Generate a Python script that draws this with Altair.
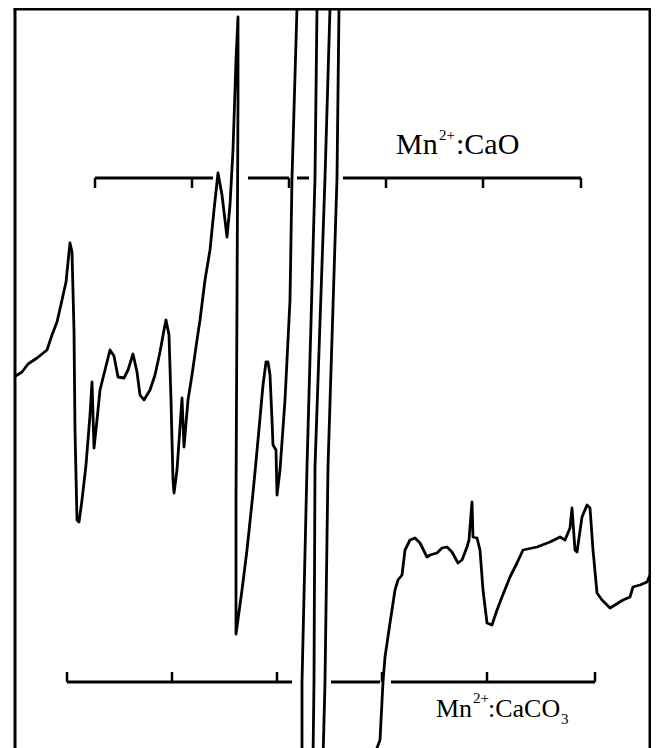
import altair as alt
import pandas as pd

# EPR trace (field in arbitrary units, signal in arbitrary units)
field = [14, 22, 28, 37, 47, 52, 57, 62, 66, 70, 72, 74, 75, 77, 79, 82, 86, 90, 92, 94,
         97, 100, 105, 110, 114, 118, 124, 128, 133, 137, 140, 144, 150, 155, 160, 164, 166, 169, 171, 173,
         174, 177, 180, 182, 184, 188, 192, 197, 200, 205, 210, 214, 218, 222, 227, 230, 233, 236, 238, 238,
         237, 236, 236, 242, 247, 253, 258, 263, 266, 268, 270, 272, 273, 276, 277, 280, 285, 290, 292, 297,
         298, 318, 317, 315, 307, 302, 302, 313, 314, 315, 325, 330, 331, 340, 339, 337, 328, 325, 323, 376,
         377, 380, 383, 385, 390, 395, 398, 402, 405, 410, 415, 420, 427, 430, 437, 442, 447, 452, 458, 462,
         467, 469, 472, 473, 477, 480, 483, 487, 492, 497, 502, 510, 517, 523, 537, 550, 560, 565, 570, 572,
         575, 577, 582, 587, 590, 593, 597, 602, 610, 615, 623, 630, 633, 640, 647, 650]
signal = [363, 368, 376, 382, 390, 405, 418, 440, 458, 497, 488, 410, 310, 220, 218, 240, 275, 325, 358, 292,
          320, 350, 370, 390, 384, 363, 362, 370, 386, 368, 345, 340, 350, 365, 388, 410, 420, 405, 340, 260,
          247, 270, 313, 342, 293, 340, 365, 400, 420, 460, 490, 530, 567, 545, 503, 535, 590, 680, 723, 640,
          440, 240, 106, 150, 190, 247, 300, 355, 378, 378, 365, 320, 295, 290, 245, 270, 340, 440, 562, 732,
          760, 760, 732, 562, 273, 58, -20, -20, 58, 273, 562, 732, 760, 760, 732, 562, 273, 58, -20, -20,
          -8, 0, 58, 83, 117, 150, 160, 165, 190, 200, 202, 197, 183, 185, 187, 192, 193, 188, 177, 180,
          193, 200, 238, 203, 202, 190, 150, 117, 115, 130, 143, 163, 177, 190, 193, 198, 203, 200, 212, 232,
          190, 188, 223, 235, 232, 190, 147, 140, 132, 135, 140, 143, 153, 155, 158, 165]

# stick diagrams (hyperfine line positions)
cao_level = 562
cao_tick_end = 552
cao_bar_start = [95, 248, 297, 343]
cao_bar_end = [213, 289, 309, 581]
cao_lines = [95, 192, 289, 386, 483, 581]

caco3_level = 58
caco3_tick_end = 68
caco3_bar_start = [67, 331, 391]
caco3_bar_end = [292, 380, 595]
caco3_lines = [67, 172, 277, 382, 487, 595]

W, H = 636, 739
xs = alt.Scale(domain=[13, 649], nice=False, zero=False)
ys = alt.Scale(domain=[-8, 731], nice=False, zero=False)

trace_df = pd.DataFrame({"field": field, "signal": signal, "i": range(len(field))})
trace = alt.Chart(trace_df).mark_line(color="black", strokeWidth=2.8, clip=True,
                                       strokeJoin="round").encode(
    x=alt.X("field:Q", scale=xs, axis=None),
    y=alt.Y("signal:Q", scale=ys, axis=None),
    order="i:Q",
)

bars_df = pd.DataFrame({
    "x1": cao_bar_start + caco3_bar_start,
    "x2": cao_bar_end + caco3_bar_end,
    "lvl": [cao_level] * len(cao_bar_start) + [caco3_level] * len(caco3_bar_start),
})
bars = alt.Chart(bars_df).mark_rule(color="black", strokeWidth=3).encode(
    x=alt.X("x1:Q", scale=xs, axis=None), x2="x2:Q",
    y=alt.Y("lvl:Q", scale=ys, axis=None),
)

ticks_df = pd.DataFrame({
    "pos": cao_lines + caco3_lines,
    "y1": [cao_level] * len(cao_lines) + [caco3_level] * len(caco3_lines),
    "y2": [cao_tick_end] * len(cao_lines) + [caco3_tick_end] * len(caco3_lines),
})
ticks = alt.Chart(ticks_df).mark_rule(color="black", strokeWidth=2.5).encode(
    x=alt.X("pos:Q", scale=xs, axis=None),
    y=alt.Y("y1:Q", scale=ys, axis=None), y2="y2:Q",
)

upper_df = pd.DataFrame({"field": [396, 456], "signal": [586, 586], "t": ["Mn", ":CaO"]})
lower_df = pd.DataFrame({"field": [436, 488], "signal": [23, 23], "t": ["Mn", ":CaCO"]})
small_df = pd.DataFrame({
    "field": [439, 473, 561],
    "signal": [600, 37, 16],
    "t": ["2+", "2+", "3"],
})


def text_layer(df, size):
    return alt.Chart(df).mark_text(font="Liberation Serif", fontSize=size, align="left",
                                   baseline="alphabetic", color="black").encode(
        x=alt.X("field:Q", scale=xs, axis=None), y=alt.Y("signal:Q", scale=ys, axis=None), text="t:N")


upper_text = text_layer(upper_df, 30)
lower_text = text_layer(lower_df, 26)
small_text = text_layer(small_df, 15)

one = alt.Data(values=[{"k": 1}])
frame_left = alt.Chart(one).mark_rule(color="black", strokeWidth=3).encode(
    x=alt.value(2), y=alt.value(0), y2=alt.value(H))
frame_right = alt.Chart(one).mark_rule(color="black", strokeWidth=3).encode(
    x=alt.value(637), y=alt.value(0), y2=alt.value(H))
frame_top = alt.Chart(one).mark_rule(color="black", strokeWidth=3).encode(
    x=alt.value(0.5), x2=alt.value(638.5), y=alt.value(0))

chart = alt.layer(trace, bars, ticks, upper_text, lower_text, small_text,
                  frame_left, frame_right, frame_top).properties(
    width=W, height=H,
    padding={"left": 5, "right": 2, "top": 1, "bottom": 0},
    autosize=alt.AutoSizeParams(type="none"),
    background="white",
).configure_view(stroke=None)

chart.save("out.html", embed_options={"renderer": "svg", "actions": False})
